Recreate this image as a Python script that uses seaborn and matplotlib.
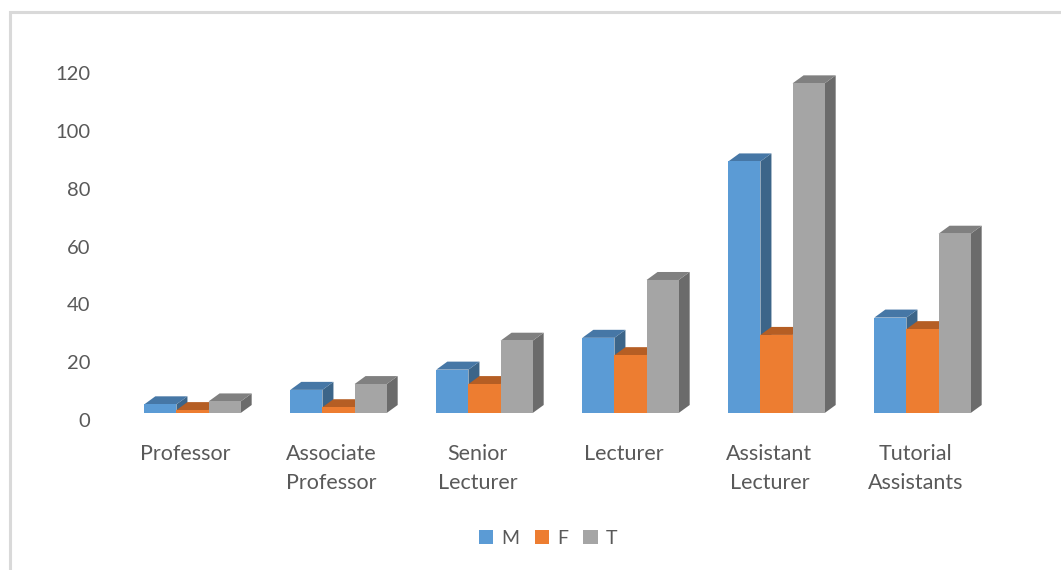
import numpy as np
import pandas as pd
import matplotlib
matplotlib.use("Agg")
import matplotlib.pyplot as plt
import matplotlib.transforms as mtransforms
from matplotlib.patches import Polygon, Rectangle
import seaborn as sns

# data
categories = ["Professor", "Associate\nProfessor", "Senior\nLecturer", "Lecturer",
              "Assistant\nLecturer", "Tutorial\nAssistants"]
male = [3, 8, 15, 26, 87, 33]
female = [1, 2, 10, 20, 27, 29]
total = [4, 10, 25, 46, 114, 62]
series = ["M", "F", "T"]

front_cols = ["#5b9bd5", "#ed7d31", "#a5a5a5"]
top_cols = ["#4677a6", "#b55e24", "#808080"]
side_cols = ["#3c6589", "#a15420", "#6b6b6b"]

df = pd.DataFrame({
    "cat": categories * 3,
    "series": ["M"] * 6 + ["F"] * 6 + ["T"] * 6,
    "value": male + female + total,
})

sns.set_style("white")
plt.rcParams["font.family"] = ["Lato", "DejaVu Sans"]
txt_col = "#595959"

fig = plt.figure(figsize=(10.61, 5.70), dpi=100)
ax = fig.add_axes([119.5 / 1061, 1 - 413 / 570, 876 / 1061, 347 / 570])

sns.barplot(data=df, x="cat", y="value", hue="series", hue_order=series,
            palette=front_cols, width=0.66, saturation=1, legend=False,
            linewidth=0, ax=ax)
ax.set_xlim(-0.5, 5.5)
ax.set_ylim(0, 120)
ax.set_yticks(range(0, 121, 20))
ax.set_xlabel("")
ax.set_ylabel("")
for s in ax.spines.values():
    s.set_visible(False)
ax.tick_params(axis="both", length=0, labelcolor=txt_col)
ax.tick_params(axis="y", pad=21, labelsize=14.5)
ax.tick_params(axis="x", pad=22, labelsize=15.5)

# shift tick labels a little, as in the 3D layout
ydown = mtransforms.ScaledTranslation(0, -0.07, fig.dpi_scale_trans)
for lab in ax.get_yticklabels():
    lab.set_transform(lab.get_transform() + ydown)
xleft = mtransforms.ScaledTranslation(-0.07, 0, fig.dpi_scale_trans)
for lab in ax.get_xticklabels():
    lab.set_transform(lab.get_transform() + xleft)
    lab.set_linespacing(1.6)

# fake 3D depth on every bar, drawn in pixel space inside the axes
dx, dy = 11, 8
ident = mtransforms.IdentityTransform()
for k, cont in enumerate(ax.containers):
    for p in cont.patches:
        x0, y0 = p.get_x(), p.get_y()
        x1, y1 = x0 + p.get_width(), y0 + p.get_height()
        (px0, py0), (px1, py1) = ax.transData.transform([(x0, y0), (x1, y1)])
        z = 3 + 2 * k
        top = Polygon([(px0, py1), (px1, py1), (px1 + dx, py1 + dy), (px0 + dx, py1 + dy)],
                      closed=True, transform=ident, facecolor=top_cols[k],
                      edgecolor="none", zorder=z, clip_on=False)
        side = Polygon([(px1, py0), (px1 + dx, py0 + dy), (px1 + dx, py1 + dy), (px1, py1)],
                       closed=True, transform=ident, facecolor=side_cols[k],
                       edgecolor="none", zorder=z, clip_on=False)
        ax.add_artist(side)
        ax.add_artist(top)
        p.set_zorder(z + 1)
        p.set_clip_on(False)

# legend
handles = [Rectangle((0, 0), 1, 1, facecolor=c, edgecolor="none") for c in front_cols]
fig.legend(handles, series, loc="center", bbox_to_anchor=(548 / 1061, 1 - 538 / 570),
           ncol=3, frameon=False, fontsize=14, labelcolor=txt_col,
           handlelength=0.75, handleheight=0.75, handletextpad=0.4, columnspacing=0.8)

# chart frame
fig.add_artist(Rectangle((10 / 1061, -0.1), 1.2, 1 - 12.5 / 570 + 0.1,
                         transform=fig.transFigure, facecolor="none",
                         edgecolor="#d9d9d9", linewidth=2.2))

fig.savefig("out.png", dpi=100)
